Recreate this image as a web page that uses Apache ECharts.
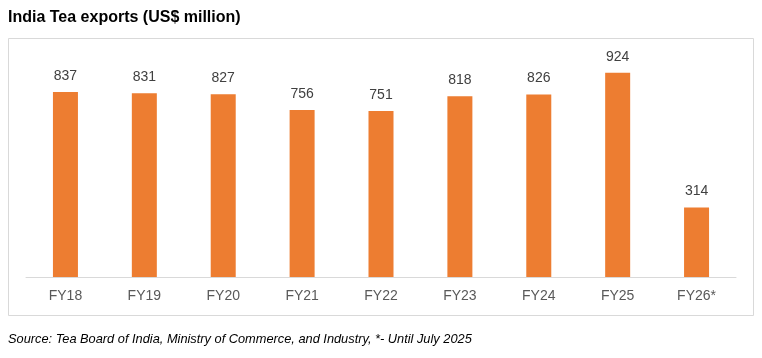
<!DOCTYPE html>
<html><head><meta charset="utf-8">
<script src="https://cdn.jsdelivr.net/npm/echarts@6/dist/echarts.min.js"></script>
<style>html,body{margin:0;padding:0;background:#fff}#c{width:762px;height:358px}</style>
</head><body><div id="c"></div>
<script>
const categories = ['FY18','FY19','FY20','FY21','FY22','FY23','FY24','FY25','FY26*'];
const exportsUSD = [837,831,827,756,751,818,826,924,314];
const titleText = 'India Tea exports (US$ million)';
const sourceText = 'Source: Tea Board of India, Ministry of Commerce, and Industry, *- Until July 2025';

const chart = echarts.init(document.getElementById('c'), null, {renderer:'canvas'});
chart.setOption({
  animation:false,
  backgroundColor:'#fff',
  title:{text:titleText,left:8,top:10,padding:0,textStyle:{fontFamily:'Liberation Sans, Arial',fontSize:16,fontWeight:'bold',color:'#000'}},
  graphic:[
    {type:'rect',shape:{x:8.5,y:38.5,width:745,height:277},style:{fill:'none',stroke:'#d9d9d9',lineWidth:1},silent:true},
    {type:'text',left:8,top:333,style:{text:sourceText,font:'italic 12.8px "Liberation Sans", Arial',fill:'#000'}}
  ],
  grid:{left:26,right:26,top:56,bottom:81,containLabel:false},
  xAxis:{type:'category',data:categories,axisLine:{lineStyle:{color:'#d9d9d9'}},axisTick:{show:false},
    axisLabel:{color:'#595959',fontFamily:'Liberation Sans, Arial',fontSize:14,margin:12}},
  yAxis:{type:'value',min:0,max:1000,show:false,splitLine:{show:false}},
  series:[{type:'bar',data:exportsUSD,barWidth:25,itemStyle:{color:'#ED7D31'},
    label:{show:true,position:'top',distance:9,color:'#404040',fontFamily:'Liberation Sans, Arial',fontSize:14}}]
});
</script></body></html>
